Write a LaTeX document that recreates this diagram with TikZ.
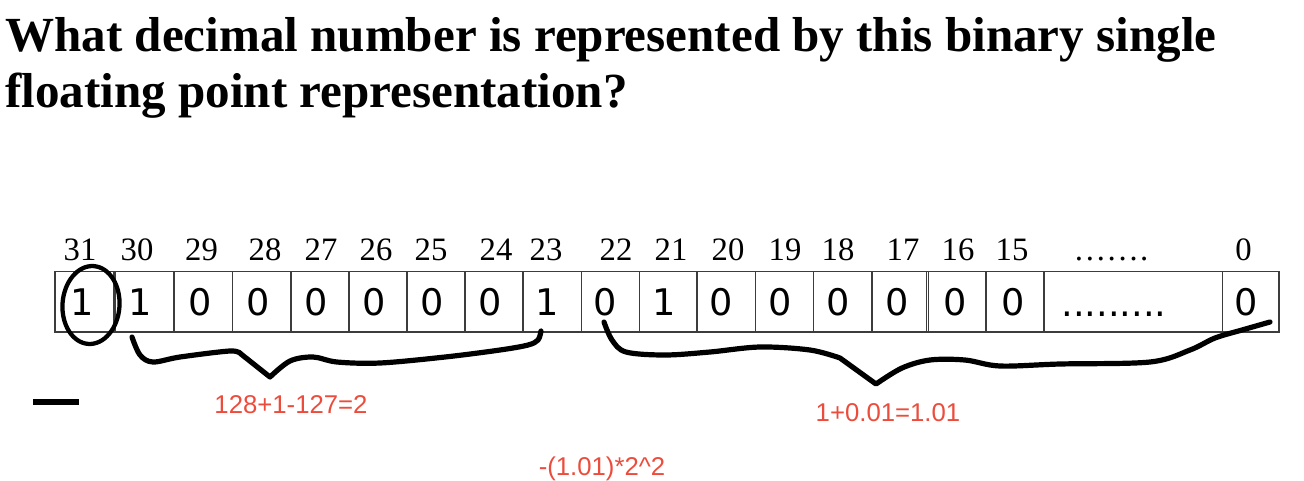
\documentclass[tikz,border=0pt]{standalone}
\usepackage{fontspec}
\setmainfont{Liberation Serif}
\newfontfamily\cellfont{DejaVu Sans}
\newfontfamily\redfont{Liberation Sans}
\definecolor{notered}{RGB}{236,76,60}
\definecolor{gridline}{RGB}{60,60,60}
\begin{document}
\begin{tikzpicture}[x=0.75pt,y=-0.75pt,
  titletext/.style={anchor=base west,inner sep=0pt,font=\fontsize{36.8pt}{40pt}\selectfont\bfseries},
  bitlabel/.style={anchor=base,inner sep=0pt,font=\fontsize{24.5pt}{26pt}\selectfont},
  bitval/.style={anchor=center,inner sep=0pt,font=\cellfont\fontsize{27.5pt}{30pt}\selectfont},
  note/.style={anchor=base,inner sep=0pt,text=notered,font=\redfont\fontsize{19.3pt}{22pt}\selectfont},
  handline/.style={line width=3.9pt,line cap=round,line join=round},
  cellline/.style={draw=gridline,line width=0.9pt}]
\useasboundingbox (0,0) rectangle (1304,480);
% title
\node[titletext] (t1) at (5,51) {What decimal number is represented by this binary single};
\node[titletext] (t2) at (5,107) {floating point representation?};
% table
\def\ytop{271.5}
\def\ybot{332}
\draw[cellline] (55,\ytop) rectangle (1279,\ybot);
\foreach \xx in {115,174,232.7,291,349,407,465,523,581.5,639.5,697,755.5,813.5,872,928.5,986,1044,1222.7}{
  \draw[cellline] (\xx,\ytop) -- (\xx,\ybot);
}
\draw[cellline] (113.3,\ytop) -- (113.3,\ybot);
\draw[cellline] (926.8,\ytop) -- (926.8,\ybot);
% labels
\foreach \xx/\lab [count=\i] in {80/31,137/30,201.5/29,265/28,321/27,376/26,431/25,496/24,546/23,616/22,671/21,728/20,785/19,838/18,903/17,958/16,1012/15,1111/{……\kern1pt.},1243.5/0}{
  \node[bitlabel] (lab\i) at (\xx,260) {\lab};
}
% values
\foreach \xx/\v [count=\i] in {82/1,140/1,200/0,258/0,316/0,374/0,432/0,490/0,547/1,605/0,664/1,721/0,780/0,838/0,897/0,955/0,1013/0,1246/0}{
  \node[bitval] (val\i) at (\xx,302.5) {\v};
}
\node[bitval,anchor=base] (valdots) at (1114,316) {.........};
% oval around sign bit
\draw[line width=3.2pt,rotate around={-4:(91,305)}] (91,305) ellipse [x radius=28.5, y radius=39];
% braces
\draw[handline] plot[smooth,tension=0.55] coordinates {(132,337) (140,355) (153,362) (180,357) (230,351) (241,354)}
  -- (270,377)
  -- plot[smooth,tension=0.55] coordinates {(270,377) (290,361) (313,357) (337,362) (380,363) (445,357) (500,350) (528,345) (538,340) (541,331)};
\draw[handline] plot[smooth,tension=0.55] coordinates {(604,322) (612,340) (626,352) (665,355) (710,352) (760,347) (810,350) (840,358)}
  -- (876,384)
  -- plot[smooth,tension=0.55] coordinates {(876,384) (902,368) (930,360) (965,360) (1000,366) (1060,364) (1150,362) (1190,350) (1215,338) (1242,330) (1270,322)};
% minus sign
\draw[line width=3.8pt] (33,402) -- (79,402);
% red notes
\node[note] (n1) at (291,413) {128+1-127=2};
\node[note] (n2) at (888,421) {1+0.01=1.01};
\node[note] (n3) at (602,475) {-(1.01)*2\^{}2};
\end{tikzpicture}
\end{document}
